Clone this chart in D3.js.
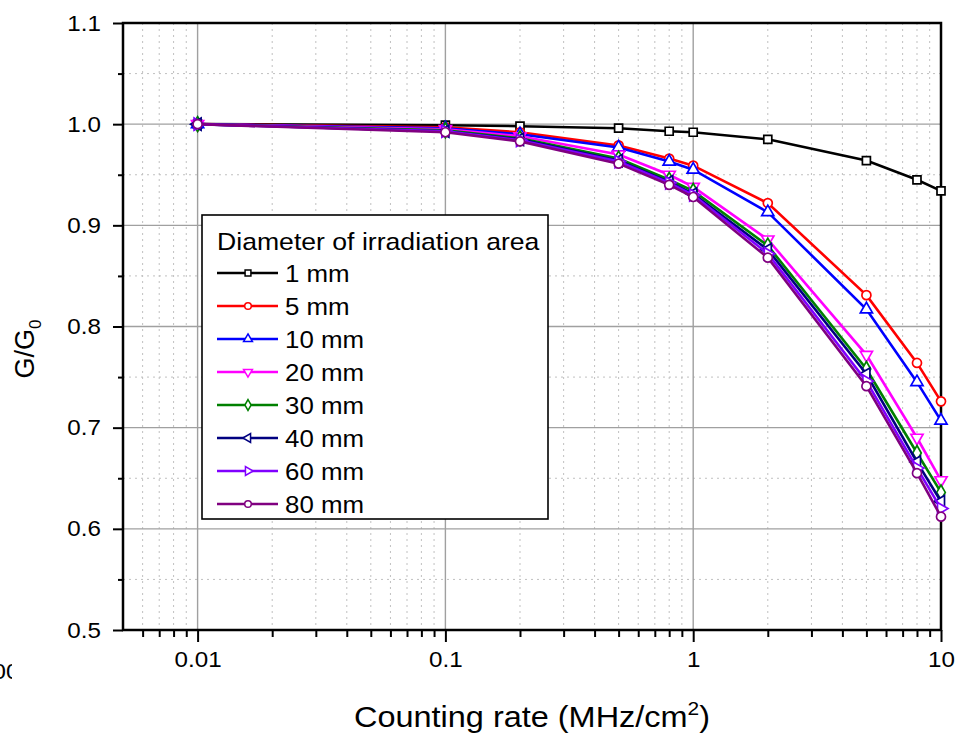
<!DOCTYPE html>
<html><head><meta charset="utf-8">
<script src="https://cdn.jsdelivr.net/npm/d3@7"></script>
<style>
html,body{margin:0;padding:0;background:#fff;}
svg{display:block;font-family:"Liberation Sans",Arial,sans-serif;}
</style></head>
<body>
<svg id="chart" width="959" height="733"></svg>
<script>
const xValues = [0.01, 0.1, 0.2, 0.5, 0.8, 1, 2, 5, 8, 10];
const seriesNames = ["1 mm","5 mm","10 mm","20 mm","30 mm","40 mm","60 mm","80 mm"];
const s1mm  = [1.000, 0.999, 0.998, 0.996, 0.993, 0.992, 0.985, 0.964, 0.945, 0.934];
const s5mm  = [1.000, 0.997, 0.992, 0.979, 0.966, 0.959, 0.922, 0.831, 0.764, 0.726];
const s10mm = [1.000, 0.996, 0.990, 0.977, 0.963, 0.955, 0.913, 0.817, 0.745, 0.707];
const s20mm = [1.000, 0.995, 0.988, 0.970, 0.950, 0.938, 0.886, 0.772, 0.690, 0.648];
const s30mm = [1.000, 0.994, 0.986, 0.966, 0.945, 0.934, 0.880, 0.758, 0.675, 0.636];
const s40mm = [1.000, 0.993, 0.985, 0.964, 0.943, 0.931, 0.876, 0.753, 0.666, 0.627];
const s60mm = [1.000, 0.993, 0.984, 0.963, 0.942, 0.930, 0.872, 0.746, 0.660, 0.620];
const s80mm = [1.000, 0.992, 0.983, 0.961, 0.940, 0.928, 0.868, 0.741, 0.655, 0.612];
const seriesValues = [s1mm, s5mm, s10mm, s20mm, s30mm, s40mm, s60mm, s80mm];
const seriesColors = ["#000000","#ff0000","#0000ff","#ff00ff","#008000","#000080","#8000ff","#800080"];
const seriesSymbols = ["square","circle","up","down","diamond","left","right","circle"];
const xTickValues = [0.01, 0.1, 1, 10];
const xTickLabels = ["0.01","0.1","1","10"];
const yTickValues = [0.5,0.6,0.7,0.8,0.9,1.0,1.1];
const yTickLabels = ["0.5","0.6","0.7","0.8","0.9","1.0","1.1"];
const legendTitle = "Diameter of irradiation area";
const xTitle = "Counting rate (MHz/cm";
const yTitle = "G/G";

const STRETCH = 1.1;
const svg = d3.select("#chart");
const L = 123, R = 941, T = 23, B = 630;
const x = d3.scaleLog().domain([0.005, 10]).range([L, R]);
const y = d3.scaleLinear().domain([0.5, 1.1]).range([B, T]);

const xMinor = [];
[0.001,0.01,0.1,1].forEach(d=>{for(let k=2;k<=9;k++){const v=d*k; if(v>0.00501&&v<10) xMinor.push(v);}});
const yMinor = [0.55,0.65,0.75,0.85,0.95,1.05];

const grid = svg.append("g");
grid.selectAll("line.xm").data(xMinor).enter().append("line")
  .attr("x1",d=>x(d)).attr("x2",d=>x(d)).attr("y1",T).attr("y2",B)
  .attr("stroke","#c0c0c0").attr("stroke-width",1).attr("stroke-dasharray","2,4");
grid.selectAll("line.ym").data(yMinor).enter().append("line")
  .attr("x1",L).attr("x2",R).attr("y1",d=>y(d)).attr("y2",d=>y(d))
  .attr("stroke","#c0c0c0").attr("stroke-width",1).attr("stroke-dasharray","2,4");
grid.selectAll("line.xM").data(xTickValues.slice(0,3)).enter().append("line")
  .attr("x1",d=>x(d)).attr("x2",d=>x(d)).attr("y1",T).attr("y2",B)
  .attr("stroke","#a0a0a0").attr("stroke-width",1.4);
grid.selectAll("line.yM").data(yTickValues.slice(1,6)).enter().append("line")
  .attr("x1",L).attr("x2",R).attr("y1",d=>y(d)).attr("y2",d=>y(d))
  .attr("stroke","#a0a0a0").attr("stroke-width",1.4);

// axes
const xAxis = d3.axisBottom(x).tickValues(xTickValues).tickFormat((d,i)=>xTickLabels[i]).tickSize(12).tickPadding(9);
const gx = svg.append("g").attr("transform",`translate(0,${B})`).call(xAxis);
const gxm = svg.append("g").attr("transform",`translate(0,${B})`).call(d3.axisBottom(x).tickValues(xMinor).tickFormat("").tickSize(7));
const yAxis = d3.axisLeft(y).tickValues(yTickValues).tickFormat((d,i)=>yTickLabels[i]).tickSize(10).tickPadding(12);
const gy = svg.append("g").attr("transform",`translate(${L},0)`).call(yAxis);
const gym = svg.append("g").attr("transform",`translate(${L},0)`).call(d3.axisLeft(y).tickValues(yMinor).tickFormat("").tickSize(5));
[gx,gxm,gy,gym].forEach(g=>{
  g.select(".domain").remove();
  g.selectAll(".tick line").attr("stroke","#000").attr("stroke-width",2);
  g.selectAll("text").attr("font-size",22).attr("fill","#000").attr("class","st")
   .attr("font-family","'Liberation Sans',Arial,sans-serif");
});
// frame
svg.append("rect").attr("x",L).attr("y",T).attr("width",R-L).attr("height",B-T)
  .attr("fill","none").attr("stroke","#000").attr("stroke-width",2.5);

// partially hidden label at far left (as in the reference)
const cp = svg.append("clipPath").attr("id","leftclip");
cp.append("rect").attr("x",0).attr("y",640).attr("width",12).attr("height",60);
svg.append("text").attr("clip-path","url(#leftclip)").attr("x",33).attr("y",679)
  .attr("text-anchor","end").attr("font-size",22).attr("class","st").text("0.001");

// series
const sym = {
  square: d3.symbolSquare, circle: d3.symbolCircle, diamond: d3.symbolDiamond,
  up: d3.symbolTriangle, down: d3.symbolTriangle, left: d3.symbolTriangle, right: d3.symbolTriangle
};
const rot = {up:0, down:180, left:-90, right:90, square:0, circle:0, diamond:0};
function marker(g, type, color, size, sw){
  g.append("path").attr("d", d3.symbol().type(sym[type]).size(size)())
    .attr("transform", `rotate(${rot[type]})`)
    .attr("fill","#fff").attr("stroke",color).attr("stroke-width",sw);
}
const line = d3.line().x((d,i)=>x(xValues[i])).y(d=>y(d));
const plot = svg.append("g");
seriesValues.forEach((vals,si)=>{
  const g = plot.append("g");
  g.append("path").datum(vals).attr("d",line).attr("fill","none")
    .attr("stroke",seriesColors[si]).attr("stroke-width",2.6);
  vals.forEach((v,i)=>{
    const m = g.append("g").attr("transform",`translate(${x(xValues[i])},${y(v)})`);
    marker(m, seriesSymbols[si], seriesColors[si], 64, 1.7);
  });
});

// legend
const lg = svg.append("g");
lg.append("rect").attr("x",202).attr("y",215).attr("width",346).attr("height",304)
  .attr("fill","#fff").attr("stroke","#000").attr("stroke-width",1.6);
lg.append("text").attr("x",217).attr("y",250).attr("font-size",24.2).attr("class","st").text(legendTitle);
seriesNames.forEach((n,i)=>{
  const cy = 273 + i*33;
  lg.append("line").attr("x1",217).attr("x2",278).attr("y1",cy).attr("y2",cy)
    .attr("stroke",seriesColors[i]).attr("stroke-width",2.6);
  const m = lg.append("g").attr("transform",`translate(248,${cy})`);
  marker(m, seriesSymbols[i], seriesColors[i], 34, 1.5);
  lg.append("text").attr("x",285).attr("y",cy+8.5).attr("font-size",23.5).attr("class","st").text(n);
});

// horizontal stretch of single texts
svg.selectAll("text.st").each(function(){
  const w = this.getComputedTextLength();
  if (w > 0) d3.select(this).attr("textLength", w*STRETCH).attr("lengthAdjust","spacingAndGlyphs");
});

// axis titles
const xtg = svg.append("g").attr("transform",`translate(532,727) scale(${STRETCH},1)`);
const xt = xtg.append("text").attr("x",0).attr("y",0).attr("text-anchor","middle").attr("font-size",29.5);
xt.append("tspan").text(xTitle);
xt.append("tspan").attr("font-size",19).attr("dy",-12).text("2");
xt.append("tspan").attr("dy",12).text(")");
const yt = svg.append("text").attr("transform","translate(34,349) rotate(-90)").attr("text-anchor","middle").attr("font-size",27);
yt.append("tspan").text(yTitle);
yt.append("tspan").attr("font-size",17).attr("dy",7).text("0");
</script>
</body></html>
